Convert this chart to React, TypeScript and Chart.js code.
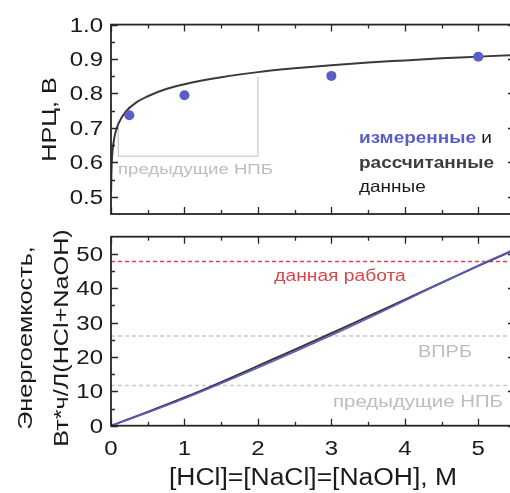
import React, { useEffect, useRef } from "react";
import { Chart, registerables } from "chart.js";

Chart.register(...registerables);

const FONT = '"Liberation Sans", Arial, Helvetica, sans-serif';

// ---------- data: top panel (open-circuit voltage) ----------
const measuredConc = [0.25, 1, 3, 5];
const measuredOcv = [0.737, 0.795, 0.851, 0.907];
const calcConc = [0.002, 0.005, 0.01, 0.02, 0.05, 0.1, 0.2, 0.35, 0.5, 0.75, 1, 1.5, 2, 2.5, 3, 3.5, 4, 4.5, 5, 5.5];
const calcOcv = [0.516, 0.562, 0.597, 0.631, 0.677, 0.712, 0.747, 0.775, 0.792, 0.813, 0.827, 0.847, 0.862, 0.873, 0.882, 0.89, 0.896, 0.902, 0.907, 0.912];
const prevBoxConc = [0.1, 0.1, 2, 2];
const prevBoxOcv = [0.705, 0.618, 0.618, 0.848];

// ---------- data: bottom panel (energy density) ----------
const energyCalcConc = [0, 0.5, 1, 1.5, 2, 2.5, 3, 3.5, 4, 4.5, 5, 5.5];
const energyCalc = [0, 4.0, 8.2, 12.7, 17.4, 22.1, 26.9, 31.8, 36.7, 41.6, 46.5, 51.2];
const energyMeasConc = [0, 0.25, 1, 3, 5, 5.5];
const energyMeas = [0, 1.9, 7.9, 26.3, 46.6, 51.4];
const thisWorkLevel = 47.8;
const vprbLevel = 26.1;
const prevNpbLevel = 11.7;

// ---------- ticks ----------
const xTicks = [0, 1, 2, 3, 4, 5];
const xMinorTicks = [0.5, 1.5, 2.5, 3.5, 4.5];
const topYTicks = [0.5, 0.6, 0.7, 0.8, 0.9, 1.0];
const topYMinorTicks = [0.55, 0.65, 0.75, 0.85, 0.95];
const botYTicks = [0, 10, 20, 30, 40, 50];
const botYMinorTicks = [5, 15, 25, 35, 45];

const AXIS = "#262626";
const TEXT = "#1a1a1a";
const BLUE = "#5b5ec6";
const CURVE = "#3a3a3a";
const RED = "#d8464b";
const LGRAY = "#c9c9c9";
const TGRAY = "#bdbdbd";

const pts = (xs: number[], ys: number[]) => xs.map((x, i) => ({ x, y: ys[i] }));

type TOpts = { size: number; weight?: string; color?: string; align?: CanvasTextAlign; k?: number; rotate?: boolean };

function drawText(ctx: CanvasRenderingContext2D, text: string, x: number, y: number, o: TOpts) {
  ctx.save();
  ctx.translate(x, y);
  if (o.rotate) ctx.rotate(-Math.PI / 2);
  ctx.scale(o.k ?? 1.2, 1);
  ctx.font = `${o.weight ?? "normal"} ${o.size}px ${FONT}`;
  ctx.fillStyle = o.color ?? TEXT;
  ctx.textAlign = o.align ?? "left";
  ctx.textBaseline = "alphabetic";
  ctx.fillText(text, 0, 0);
  const w = ctx.measureText(text).width * (o.k ?? 1.2);
  ctx.restore();
  return w;
}

function framePlugin(id: string, yTicks: number[], yMinor: number[], yFmt: (v: number) => string, xLabels: boolean, extra: (ctx: CanvasRenderingContext2D, chart: any) => void) {
  return {
    id,
    afterDraw(chart: any) {
      const ctx: CanvasRenderingContext2D = chart.ctx;
      const a = chart.chartArea;
      const xs = chart.scales.x;
      const ys = chart.scales.y;
      ctx.save();
      ctx.strokeStyle = AXIS;
      ctx.lineWidth = 1.3;
      ctx.beginPath();
      const xt = (vals: number[], len: number) => {
        vals.forEach((v) => {
          const px = Math.round(xs.getPixelForValue(v)) + 0.5;
          ctx.moveTo(px, a.bottom);
          ctx.lineTo(px, a.bottom - len);
          ctx.moveTo(px, a.top);
          ctx.lineTo(px, a.top + len);
        });
      };
      const yt = (vals: number[], len: number) => {
        vals.forEach((v) => {
          const py = Math.round(ys.getPixelForValue(v)) + 0.5;
          ctx.moveTo(a.left, py);
          ctx.lineTo(a.left + len, py);
          ctx.moveTo(a.right, py);
          ctx.lineTo(a.right - len, py);
        });
      };
      xt(xTicks, 7);
      xt(xMinorTicks, 4);
      yt(yTicks, 7);
      yt(yMinor, 4);
      ctx.stroke();
      ctx.lineWidth = 1.8;
      ctx.strokeRect(a.left, a.top, a.right - a.left, a.bottom - a.top);
      ctx.restore();

      yTicks.forEach((v) => {
        drawText(ctx, yFmt(v), a.left - 8, ys.getPixelForValue(v) + 7, { size: 20, align: "right" });
      });
      if (xLabels) {
        xTicks.forEach((v) => {
          drawText(ctx, String(v), xs.getPixelForValue(v), a.bottom + 28.8, { size: 20, align: "center" });
        });
      }
      extra(ctx, chart);
    },
  };
}

function baseOptions(padding: any, yMin: number, yMax: number) {
  return {
    animation: false as const,
    responsive: false,
    devicePixelRatio: 1,
    events: [] as any[],
    layout: { padding },
    plugins: { legend: { display: false }, tooltip: { enabled: false }, title: { display: false } },
    scales: {
      x: { type: "linear" as const, min: 0, max: 5.5, display: false },
      y: { type: "linear" as const, min: yMin, max: yMax, display: false },
    },
  };
}

function topConfig(): any {
  return {
    type: "line",
    data: {
      datasets: [
        {
          data: pts(measuredConc, measuredOcv),
          showLine: false,
          pointRadius: 5,
          pointBackgroundColor: BLUE,
          pointBorderWidth: 0,
        },
        {
          data: pts(calcConc, calcOcv),
          borderColor: CURVE,
          borderWidth: 2,
          pointRadius: 0,
          cubicInterpolationMode: "monotone",
          fill: false,
        },
        {
          data: pts(prevBoxConc, prevBoxOcv),
          borderColor: "#cfcfcf",
          borderWidth: 1.4,
          pointRadius: 0,
          tension: 0,
          fill: false,
        },
      ],
    },
    options: baseOptions({ left: 111, top: 24.6, right: 15, bottom: 14 }, 0.45, 1.0),
    plugins: [
      framePlugin("frameTop", topYTicks, topYMinorTicks, (v) => v.toFixed(1), false, (ctx) => {
        drawText(ctx, "НРЦ, В", 56, 119.5, { size: 21, rotate: true, align: "center" });
        drawText(ctx, "предыдущие НПБ", 118, 174, { size: 15.5, color: TGRAY });
        const w = drawText(ctx, "измеренные ", 359, 143, { size: 16.5, weight: "bold", color: BLUE, k: 1.15 });
        drawText(ctx, "и", 359 + w, 143, { size: 16.5, color: TEXT, k: 1.15 });
        drawText(ctx, "рассчитанные", 359, 167.5, { size: 16.5, weight: "bold", color: "#3d3d3d", k: 1.15 });
        drawText(ctx, "данные", 359, 192, { size: 16.5, color: TEXT, k: 1.15 });
      }),
    ],
  };
}

function levelLine(level: number, color: string) {
  return {
    data: pts([0, 5.5], [level, level]),
    borderColor: color,
    borderWidth: 1.5,
    borderDash: [4, 3],
    pointRadius: 0,
    fill: false,
  };
}

function bottomConfig(): any {
  return {
    type: "line",
    data: {
      datasets: [
        {
          data: pts(energyMeasConc, energyMeas),
          borderColor: BLUE,
          borderWidth: 1.6,
          pointRadius: 0,
          cubicInterpolationMode: "monotone",
          fill: false,
        },
        {
          data: pts(energyCalcConc, energyCalc),
          borderColor: CURVE,
          borderWidth: 2,
          pointRadius: 0,
          cubicInterpolationMode: "monotone",
          fill: false,
        },
        levelLine(thisWorkLevel, RED),
        levelLine(vprbLevel, LGRAY),
        levelLine(prevNpbLevel, LGRAY),
      ],
    },
    options: baseOptions({ left: 111, top: 8.7, right: 15, bottom: 67.3 }, 0, 55),
    plugins: [
      framePlugin("frameBot", botYTicks, botYMinorTicks, (v) => String(v), true, (ctx) => {
        drawText(ctx, "Энергоемкость,", 31.7, 110, { size: 21, rotate: true, align: "center" });
        drawText(ctx, "Вт*ч/Л(HCl+NaOH)", 68, 110, { size: 21, rotate: true, align: "center" });
        drawText(ctx, "[HCl]=[NaCl]=[NaOH], M", 313, 257, { size: 23, align: "center", k: 1.15 });
        drawText(ctx, "данная работа", 340, 53, { size: 16, align: "center", color: RED });
        drawText(ctx, "ВПРБ", 445, 129, { size: 17, align: "center", color: TGRAY, k: 1.17 });
        drawText(ctx, "предыдущие НПБ", 418, 179, { size: 17, align: "center", color: TGRAY });
      }),
    ],
  };
}

export default function App() {
  const topRef = useRef<HTMLCanvasElement>(null);
  const botRef = useRef<HTMLCanvasElement>(null);
  useEffect(() => {
    const c1 = new Chart(topRef.current as HTMLCanvasElement, topConfig());
    const c2 = new Chart(botRef.current as HTMLCanvasElement, bottomConfig());
    return () => {
      c1.destroy();
      c2.destroy();
    };
  }, []);
  return (
    <div style={{ position: "fixed", left: 0, top: 0, width: 510, height: 493, overflow: "hidden", background: "#fff" }}>
      <canvas ref={topRef} width={530} height={228} style={{ position: "absolute", left: 0, top: 0, width: 530, height: 228 }} />
      <canvas ref={botRef} width={530} height={265} style={{ position: "absolute", left: 0, top: 228, width: 530, height: 265 }} />
    </div>
  );
}
